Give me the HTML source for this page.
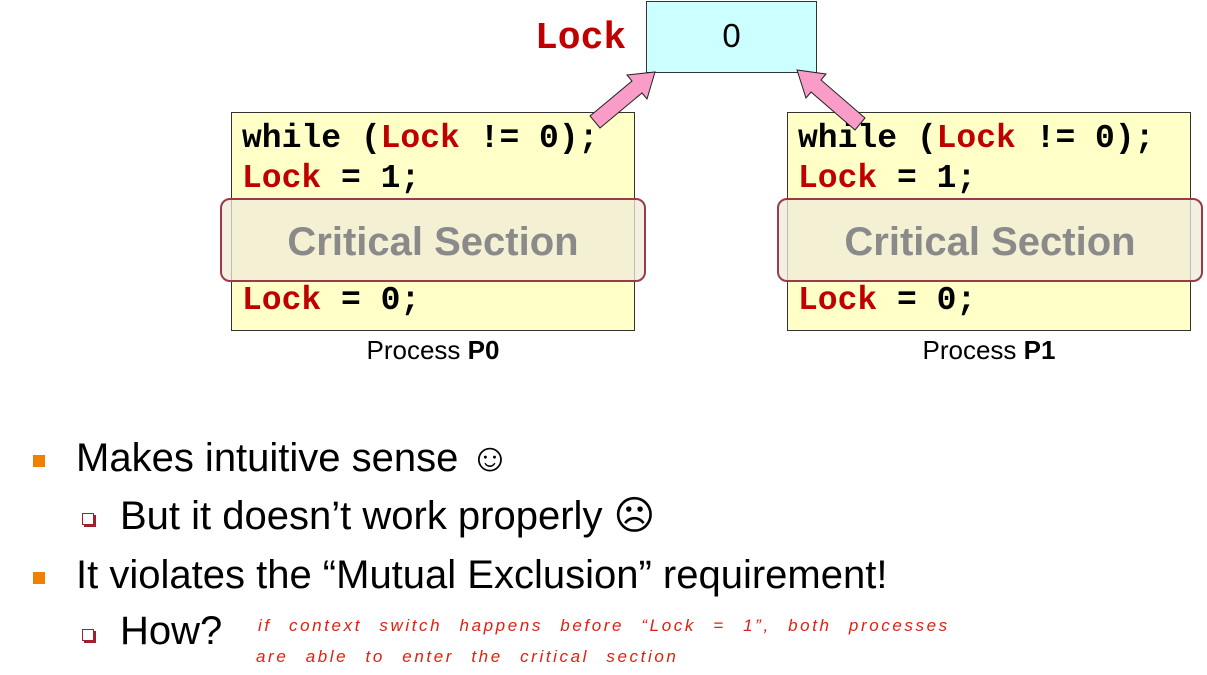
<!DOCTYPE html>
<html><head><meta charset="utf-8"><style>
body{margin:0;width:1207px;height:675px;background:#fff;position:relative;overflow:hidden;font-family:"Liberation Sans",sans-serif}
.a{position:absolute;white-space:nowrap}
.code{font-family:"Liberation Mono",monospace;font-weight:bold;font-size:33px;color:#000}
.r{color:#c00000}
.box{position:absolute;background:#ffffc8;border:1px solid #333}
.cs{position:absolute;border:2px solid #9b3a4a;border-radius:10px;background:rgba(240,235,215,0.75);color:#8a8a8a;font-weight:bold;font-size:40px;text-align:center;line-height:84px}
.b1{position:absolute;width:12px;height:12px;background:#f08000}
.b2{position:absolute;width:10px;height:10px;border:1px solid #a02030;box-shadow:2px 2px 0 #a02030;background:#fff}
.t{font-size:40px;color:#000}
.h{font-family:"Liberation Sans",sans-serif;font-style:italic;color:#e02010;font-size:17px;letter-spacing:2.6px;word-spacing:10px}
</style></head><body>
<div class="box" style="left:646px;top:1px;width:169px;height:70px;background:#ccffff"></div>
<div class="a" style="left:646px;top:17px;width:171px;text-align:center;font-size:33px;font-family:'Liberation Sans',sans-serif">0</div>
<div class="a code r" style="left:535px;top:17px;font-size:38px">Lock</div>

<div class="box" style="left:231px;top:112px;width:402px;height:217px"></div>
<div class="box" style="left:787px;top:112px;width:402px;height:217px"></div>
<div class="a code" style="left:242px;top:120px">while (<span class="r">Lock</span> != 0);</div>
<div class="a code" style="left:242px;top:160px"><span class="r">Lock</span> = 1;</div>
<div class="a code" style="left:242px;top:282px"><span class="r">Lock</span> = 0;</div>
<div class="a code" style="left:798px;top:120px">while (<span class="r">Lock</span> != 0);</div>
<div class="a code" style="left:798px;top:160px"><span class="r">Lock</span> = 1;</div>
<div class="a code" style="left:798px;top:282px"><span class="r">Lock</span> = 0;</div>
<div class="cs" style="left:220px;top:198px;width:422px;height:80px">Critical Section</div>
<div class="cs" style="left:777px;top:198px;width:422px;height:80px">Critical Section</div>
<div class="a" style="left:231px;top:335px;width:404px;text-align:center;font-size:26px">Process <b>P0</b></div>
<div class="a" style="left:787px;top:335px;width:404px;text-align:center;font-size:26px">Process <b>P1</b></div>

<svg class="a" style="left:0;top:0" width="1207" height="200">
<g fill="#f99cc8" stroke="#222" stroke-width="1">
<polygon points="590,116 632,81 627,75 655,72 647,99 642,93 600,128"/>
<polygon points="865,118 821,80 826,74 797,70 806,98 811,92 855,130"/>
</g></svg>

<div class="b1" style="left:33px;top:455px"></div>
<div class="a t" style="left:76px;top:436px">Makes intuitive sense ☺</div>
<div class="b2" style="left:82px;top:513px"></div>
<div class="a t" style="left:120px;top:493px">But it doesn’t work properly ☹</div>
<div class="b1" style="left:33px;top:572px"></div>
<div class="a t" style="left:76px;top:553px">It violates the “Mutual Exclusion” requirement!</div>
<div class="b2" style="left:82px;top:629px"></div>
<div class="a t" style="left:120px;top:609px">How?</div>
<div class="a h" style="left:258px;top:616px">if context switch happens before “Lock = 1”, both processes</div>
<div class="a h" style="left:256px;top:647px">are able to enter the critical section</div>
</body></html>
